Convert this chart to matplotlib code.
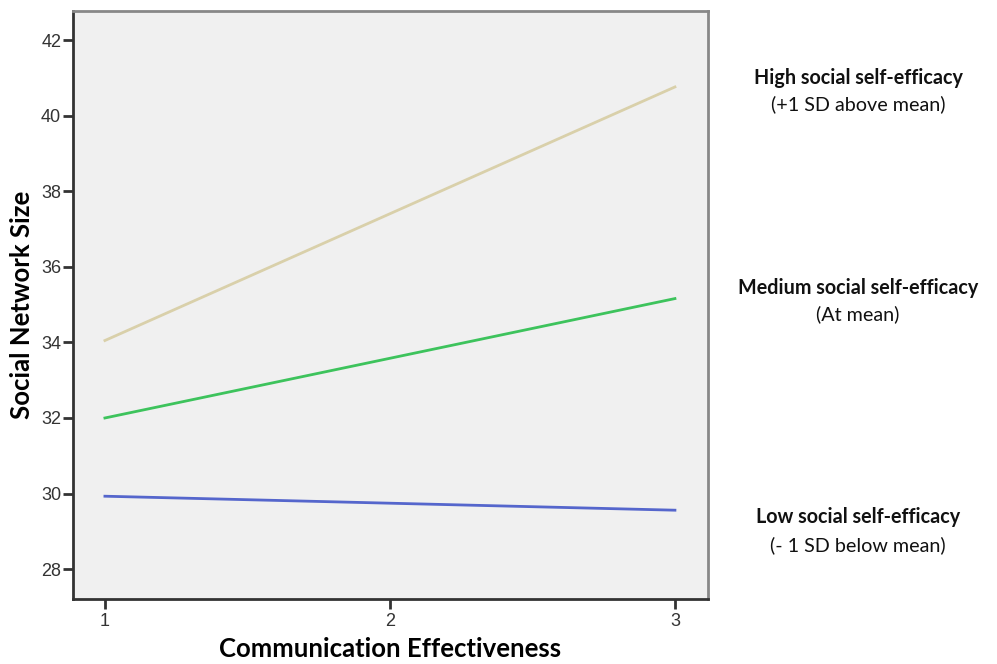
import matplotlib.pyplot as plt

# Simple slopes: social network size by communication effectiveness
x_vals = [1, 3]
high_vals = [34.05, 40.76]
medium_vals = [32.0, 35.16]
low_vals = [29.93, 29.56]

y_ticks = [28, 30, 32, 34, 36, 38, 40, 42]
x_ticks = [1, 2, 3]

labels_bold = ['High social self-efficacy', 'Medium social self-efficacy', 'Low social self-efficacy']
labels_sub = ['(+1 SD above mean)', '(At mean)', '(- 1 SD below mean)']

fig = plt.figure(figsize=(9.97, 6.64), dpi=100)
ax = fig.add_axes([73 / 997, 1 - 599 / 664, (708 - 73) / 997, (599 - 11) / 664])
ax.set_facecolor('#f0f0f0')

ax.plot(x_vals, high_vals, color='#d9d0aa', lw=2)
ax.plot(x_vals, medium_vals, color='#3dc35c', lw=2)
ax.plot(x_vals, low_vals, color='#5566cc', lw=2)

ax.set_xlim(0.888, 3.116)
ax.set_ylim(27.21, 42.77)
ax.set_xticks(x_ticks)
ax.set_yticks(y_ticks)
ax.tick_params(direction='out', length=7, width=2, color='#333333',
               labelsize=13, labelcolor='#333333', pad=1.5)
ax.tick_params(axis='x', pad=3)
for lab in ax.get_xticklabels() + ax.get_yticklabels():
    lab.set_family('Liberation Sans')

for side in ['left', 'bottom']:
    ax.spines[side].set_color('#333333')
    ax.spines[side].set_linewidth(2)
for side in ['top', 'right']:
    ax.spines[side].set_color('#888888')
    ax.spines[side].set_linewidth(2)

ax.set_xlabel('Communication Effectiveness', fontsize=18.5, fontweight='bold',
              family='Lato', labelpad=5)
ax.set_ylabel('Social Network Size', fontsize=18.5, fontweight='bold',
              family='Lato', labelpad=5)

# right-hand annotations
y_bold = [78, 288, 517]
y_sub = [104, 314, 545]
for lb, ls, yb, ys in zip(labels_bold, labels_sub, y_bold, y_sub):
    fig.text(858 / 997, 1 - yb / 664, lb, ha='center', va='center',
             fontsize=14.2, fontweight='bold', family='Lato', color='#111111')
    fig.text(858 / 997, 1 - ys / 664, ls, ha='center', va='center',
             fontsize=14.2, family='Lato', color='#111111')

fig.savefig('out.png', dpi=100)
